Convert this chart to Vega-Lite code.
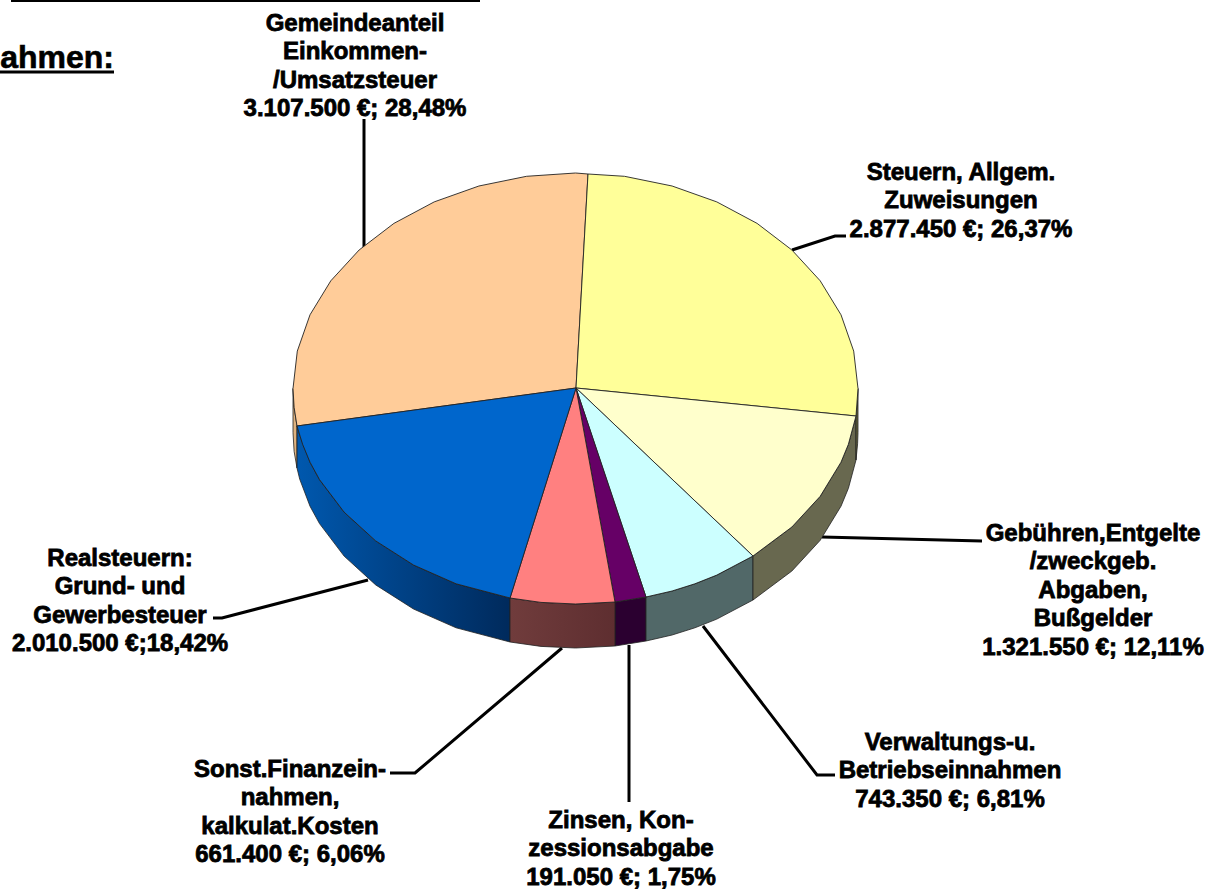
{"$schema":"https://vega.github.io/schema/vega-lite/v6.json","width":1214,"height":891,"autosize":"none","padding":0,"background":"white","config":{"view":{"stroke":null}},
"resolve":{"scale":{"fill":"independent"}},
"datasets":{
"waende":[
{"w":"Orange","x":293,"y":388.5,"y2":432.5},{"w":"Orange","x":294.1,"y":407.3,"y2":451.3},{"w":"Orange","x":297,"y":426,"y2":468},
{"w":"Blau","x":297,"y":426,"y2":468},{"w":"Blau","x":299.7,"y":435.1,"y2":479.1},{"w":"Blau","x":310,"y":462.2,"y2":506.2},{"w":"Blau","x":319.5,"y":479.6,"y2":523.6},{"w":"Blau","x":344.1,"y":512.1,"y2":556.1},{"w":"Blau","x":375.7,"y":540.9,"y2":584.9},{"w":"Blau","x":413.5,"y":565,"y2":609},{"w":"Blau","x":456.1,"y":583.8,"y2":627.8},{"w":"Blau","x":510,"y":598,"y2":642},
{"w":"Rosa","x":510,"y":598,"y2":642},{"w":"Rosa","x":541,"y":602.4,"y2":646.4},{"w":"Rosa","x":575.5,"y":604,"y2":648},{"w":"Rosa","x":615,"y":602,"y2":646},
{"w":"Lila","x":615,"y":602,"y2":646},{"w":"Lila","x":646,"y":597,"y2":641},
{"w":"Cyan","x":646,"y":597,"y2":641},{"w":"Cyan","x":672.1,"y":591,"y2":635},{"w":"Cyan","x":694.9,"y":583.8,"y2":627.8},{"w":"Cyan","x":716.8,"y":575.1,"y2":619.1},{"w":"Cyan","x":753,"y":556,"y2":600},
{"w":"Creme","x":753,"y":556,"y2":600},{"w":"Creme","x":791.9,"y":527,"y2":571},{"w":"Creme","x":820.2,"y":496.3,"y2":540.3},{"w":"Creme","x":841,"y":462.2,"y2":506.2},{"w":"Creme","x":848.4,"y":444.3,"y2":488.3},{"w":"Creme","x":856,"y":416,"y2":460},
{"w":"Gelb","x":856,"y":416,"y2":460},{"w":"Gelb","x":857.6,"y":399.8,"y2":443.8},{"w":"Gelb","x":858,"y":388.5,"y2":432.5}
],
"flaechen":[
{"s":"Gemeindeanteil","i":0,"x":576,"y":388},{"s":"Gemeindeanteil","i":1,"x":297,"y":426},{"s":"Gemeindeanteil","i":2,"x":294.1,"y":407.3},{"s":"Gemeindeanteil","i":3,"x":293,"y":388.5},{"s":"Gemeindeanteil","i":4,"x":297.3,"y":351.1},{"s":"Gemeindeanteil","i":5,"x":310,"y":314.8},{"s":"Gemeindeanteil","i":6,"x":330.8,"y":280.8},{"s":"Gemeindeanteil","i":7,"x":359.1,"y":250},{"s":"Gemeindeanteil","i":8,"x":393.9,"y":223.4},{"s":"Gemeindeanteil","i":9,"x":434.2,"y":201.9},{"s":"Gemeindeanteil","i":10,"x":478.9,"y":186},{"s":"Gemeindeanteil","i":11,"x":526.5,"y":176.3},{"s":"Gemeindeanteil","i":12,"x":575.5,"y":173},{"s":"Gemeindeanteil","i":13,"x":588,"y":174},{"s":"Gemeindeanteil","i":14,"x":576,"y":388},
{"s":"Steuern","i":0,"x":576,"y":388},{"s":"Steuern","i":1,"x":588,"y":174},{"s":"Steuern","i":2,"x":624.5,"y":176.3},{"s":"Steuern","i":3,"x":672.1,"y":186},{"s":"Steuern","i":4,"x":716.8,"y":201.9},{"s":"Steuern","i":5,"x":757.1,"y":223.4},{"s":"Steuern","i":6,"x":791.9,"y":250},{"s":"Steuern","i":7,"x":820.2,"y":280.8},{"s":"Steuern","i":8,"x":841,"y":314.8},{"s":"Steuern","i":9,"x":853.7,"y":351.1},{"s":"Steuern","i":10,"x":858,"y":388.5},{"s":"Steuern","i":11,"x":856,"y":416},{"s":"Steuern","i":12,"x":576,"y":388},
{"s":"Gebühren","i":0,"x":576,"y":388},{"s":"Gebühren","i":1,"x":856,"y":416},{"s":"Gebühren","i":2,"x":848.4,"y":444.3},{"s":"Gebühren","i":3,"x":841,"y":462.2},{"s":"Gebühren","i":4,"x":820.2,"y":496.3},{"s":"Gebühren","i":5,"x":791.9,"y":527},{"s":"Gebühren","i":6,"x":753,"y":556},{"s":"Gebühren","i":7,"x":576,"y":388},
{"s":"Verwaltung","i":0,"x":576,"y":388},{"s":"Verwaltung","i":1,"x":753,"y":556},{"s":"Verwaltung","i":2,"x":716.8,"y":575.1},{"s":"Verwaltung","i":3,"x":694.9,"y":583.8},{"s":"Verwaltung","i":4,"x":672.1,"y":591},{"s":"Verwaltung","i":5,"x":646,"y":597},{"s":"Verwaltung","i":6,"x":576,"y":388},
{"s":"Zinsen","i":0,"x":576,"y":388},{"s":"Zinsen","i":1,"x":646,"y":597},{"s":"Zinsen","i":2,"x":615,"y":602},{"s":"Zinsen","i":3,"x":576,"y":388},
{"s":"Sonstige","i":0,"x":576,"y":388},{"s":"Sonstige","i":1,"x":615,"y":602},{"s":"Sonstige","i":2,"x":575.5,"y":604},{"s":"Sonstige","i":3,"x":541,"y":602.4},{"s":"Sonstige","i":4,"x":510,"y":598},{"s":"Sonstige","i":5,"x":576,"y":388},
{"s":"Realsteuern","i":0,"x":576,"y":388},{"s":"Realsteuern","i":1,"x":510,"y":598},{"s":"Realsteuern","i":2,"x":456.1,"y":583.8},{"s":"Realsteuern","i":3,"x":413.5,"y":565},{"s":"Realsteuern","i":4,"x":375.7,"y":540.9},{"s":"Realsteuern","i":5,"x":344.1,"y":512.1},{"s":"Realsteuern","i":6,"x":319.5,"y":479.6},{"s":"Realsteuern","i":7,"x":310,"y":462.2},{"s":"Realsteuern","i":8,"x":302.6,"y":444.3},{"s":"Realsteuern","i":9,"x":297,"y":426},{"s":"Realsteuern","i":10,"x":576,"y":388}
],
"linien":[
{"l":"a","i":0,"x":364,"y":119},{"l":"a","i":1,"x":364,"y":247},
{"l":"b","i":0,"x":792,"y":250},{"l":"b","i":1,"x":835,"y":236},{"l":"b","i":2,"x":846,"y":236},
{"l":"c","i":0,"x":822,"y":537},{"l":"c","i":1,"x":982,"y":541},
{"l":"d","i":0,"x":703,"y":626},{"l":"d","i":1,"x":817,"y":775},{"l":"d","i":2,"x":835,"y":775},
{"l":"e","i":0,"x":629,"y":645},{"l":"e","i":1,"x":629,"y":802},
{"l":"f","i":0,"x":562,"y":648},{"l":"f","i":1,"x":415,"y":773},{"l":"f","i":2,"x":390,"y":773},
{"l":"g","i":0,"x":368,"y":580},{"l":"g","i":1,"x":222,"y":618},{"l":"g","i":2,"x":213,"y":618}
],
"texte":[
{"t":"Gemeindeanteil\nEinkommen-\n/Umsatzsteuer\n3.107.500 €; 28,48%","x":355,"y":31,"wert":3107500,"anteil":28.48},
{"t":"Steuern, Allgem.\nZuweisungen\n2.877.450 €; 26,37%","x":961,"y":180,"wert":2877450,"anteil":26.37},
{"t":"Gebühren,Entgelte\n/zweckgeb.\nAbgaben,\nBußgelder\n1.321.550 €; 12,11%","x":1093,"y":541,"wert":1321550,"anteil":12.11},
{"t":"Verwaltungs-u.\nBetriebseinnahmen\n743.350 €; 6,81%","x":950,"y":750,"wert":743350,"anteil":6.81},
{"t":"Zinsen, Kon-\nzessionsabgabe\n191.050 €; 1,75%","x":621,"y":828,"wert":191050,"anteil":1.75},
{"t":"Sonst.Finanzein-\nnahmen,\nkalkulat.Kosten\n661.400 €; 6,06%","x":290,"y":777,"wert":661400,"anteil":6.06},
{"t":"Realsteuern:\nGrund- und\nGewerbesteuer\n2.010.500 €;18,42%","x":120,"y":566,"wert":2010500,"anteil":18.42}
],
"titel":[{"t":"ahmen:","x":114,"y":68}],
"striche":[{"x":11,"x2":480,"y":1,"d":2},{"x":0,"x2":114,"y":72,"d":3}]
},
"encoding":{
"x":{"field":"x","type":"quantitative","scale":{"domain":[0,1214],"range":[0,1214],"nice":false,"zero":false},"axis":null},
"y":{"field":"y","type":"quantitative","scale":{"domain":[0,891],"range":[0,891],"nice":false,"zero":false},"axis":null}
},
"layer":[
{"data":{"name":"linien"},"mark":{"type":"line","color":"#000","strokeWidth":3,"clip":false},"encoding":{"detail":{"field":"l"},"order":{"field":"i","type":"quantitative"}}},
{"data":{"name":"waende"},"transform":[{"filter":"datum.w!=='Blau' && datum.w!=='Rosa'"}],"mark":{"type":"area","stroke":"#222","strokeWidth":0.8},"encoding":{"y2":{"field":"y2"},"fill":{"field":"w","type":"nominal","legend":null,"scale":{"domain":["Orange","Lila","Cyan","Creme","Gelb"],"range":["#DFB27F","#2B0030","#516868","#68684F","#66663F"]}}}},
{"data":{"name":"waende"},"transform":[{"filter":"datum.w==='Blau'"}],"mark":{"type":"area","stroke":"#222","strokeWidth":0.8,"fill":{"gradient":"linear","x1":0,"y1":0,"x2":1,"y2":0,"stops":[{"offset":0,"color":"#0058AE"},{"offset":1,"color":"#002A5C"}]}},"encoding":{"y2":{"field":"y2"}}},
{"data":{"name":"waende"},"transform":[{"filter":"datum.w==='Rosa'"}],"mark":{"type":"area","stroke":"#222","strokeWidth":0.8,"fill":{"gradient":"linear","x1":0,"y1":0,"x2":1,"y2":0,"stops":[{"offset":0,"color":"#703C3C"},{"offset":1,"color":"#5E2E30"}]}},"encoding":{"y2":{"field":"y2"}}},
{"data":{"name":"flaechen"},"mark":{"type":"line","stroke":"#222","strokeWidth":0.9,"strokeJoin":"round"},"encoding":{"detail":{"field":"s"},"order":{"field":"i","type":"quantitative"},"fill":{"field":"s","type":"nominal","legend":null,"scale":{"domain":["Gemeindeanteil","Steuern","Gebühren","Verwaltung","Zinsen","Sonstige","Realsteuern"],"range":["#FFCC99","#FFFF99","#FFFFCC","#CCFFFF","#660066","#FF8080","#0066CC"]}}}},
{"data":{"name":"striche"},"mark":{"type":"rule","color":"#000"},"encoding":{"x2":{"field":"x2"},"strokeWidth":{"field":"d","type":"quantitative","scale":null}}},
{"data":{"name":"texte"},"mark":{"type":"text","font":"Liberation Sans","fontWeight":"bold","fontSize":24,"lineHeight":28.4,"lineBreak":"\n","align":"center","baseline":"alphabetic","color":"#000","stroke":"#000","strokeWidth":0.8},"encoding":{"text":{"field":"t"}}},
{"data":{"name":"titel"},"mark":{"type":"text","font":"Liberation Sans","fontWeight":"bold","fontSize":32,"align":"right","baseline":"alphabetic","color":"#000","stroke":"#000","strokeWidth":0.6},"encoding":{"text":{"field":"t"}}}
]}
